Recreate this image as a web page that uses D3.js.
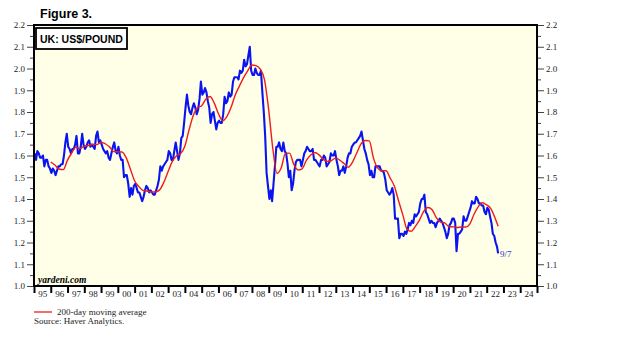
<!DOCTYPE html>
<html>
<head>
<meta charset="utf-8">
<script src="https://cdn.jsdelivr.net/npm/d3@7"></script>
<style>
  body { margin: 0; background: #fff; }
  svg { display: block; }
  .serif { font-family: "Liberation Serif", "Times New Roman", serif; }
  .sans { font-family: "Liberation Sans", Arial, sans-serif; }
</style>
</head>
<body>
<script>
// monthly US$ per pound, Jan 1995 .. Sep 2022 (last point is 9/7)
const firstMonth = new Date(1995, 0, 15);
const lastDay = new Date(2022, 8, 7);
const usdPerPound = [
  1.61,1.58,1.62,1.61,1.59,1.59,1.60,1.55,1.58,1.58,1.55,1.54, // 95
  1.52,1.54,1.53,1.51,1.53,1.55,1.55,1.56,1.56,1.60,1.66,1.70, // 96
  1.64,1.63,1.61,1.63,1.63,1.65,1.69,1.61,1.61,1.64,1.70,1.65, // 97
  1.63,1.64,1.66,1.67,1.64,1.65,1.64,1.63,1.69,1.71,1.66,1.67, // 98
  1.65,1.63,1.62,1.61,1.62,1.59,1.58,1.61,1.64,1.66,1.62,1.61, // 99
  1.64,1.60,1.58,1.58,1.50,1.51,1.51,1.47,1.41,1.45,1.42,1.46, // 00
  1.47,1.45,1.43,1.43,1.41,1.39,1.41,1.44,1.46,1.45,1.43,1.44, // 01
  1.43,1.42,1.42,1.44,1.46,1.49,1.55,1.53,1.55,1.56,1.57,1.58, // 02
  1.62,1.61,1.58,1.58,1.62,1.66,1.62,1.58,1.61,1.68,1.69,1.75, // 03
  1.82,1.88,1.83,1.80,1.79,1.82,1.84,1.82,1.79,1.81,1.86,1.94, // 04
  1.88,1.89,1.91,1.89,1.85,1.82,1.75,1.79,1.80,1.76,1.72,1.75, // 05
  1.76,1.75,1.75,1.79,1.87,1.84,1.85,1.89,1.87,1.88,1.94,1.96, // 06
  1.96,1.96,1.95,1.99,1.98,1.99,2.04,2.01,2.02,2.06,2.10,1.99, // 07
  1.97,1.97,2.00,1.98,1.97,1.97,1.99,1.89,1.80,1.69,1.52,1.46, // 08
  1.40,1.44,1.39,1.47,1.55,1.64,1.64,1.66,1.63,1.62,1.66,1.62, // 09
  1.61,1.56,1.50,1.53,1.44,1.47,1.53,1.57,1.58,1.58,1.58,1.55, // 10
  1.58,1.61,1.62,1.64,1.63,1.62,1.62,1.63,1.58,1.58,1.57,1.56, // 11
  1.55,1.58,1.58,1.60,1.59,1.55,1.56,1.57,1.61,1.60,1.60,1.62, // 12
  1.58,1.55,1.51,1.53,1.53,1.55,1.52,1.55,1.59,1.61,1.61,1.64, // 13
  1.65,1.66,1.66,1.67,1.68,1.69,1.71,1.67,1.63,1.61,1.58,1.56, // 14
  1.51,1.53,1.50,1.50,1.55,1.55,1.55,1.55,1.53,1.53,1.52,1.49, // 15
  1.44,1.43,1.42,1.43,1.45,1.42,1.31,1.31,1.31,1.22,1.24,1.24, // 16
  1.23,1.25,1.24,1.26,1.29,1.28,1.30,1.29,1.33,1.32,1.33,1.34, // 17
  1.38,1.40,1.40,1.42,1.34,1.33,1.31,1.29,1.30,1.29,1.29,1.27, // 18
  1.29,1.30,1.31,1.30,1.29,1.27,1.25,1.22,1.24,1.28,1.29,1.31, // 19
  1.31,1.29,1.16,1.24,1.24,1.25,1.26,1.32,1.30,1.30,1.32,1.34, // 20
  1.36,1.39,1.38,1.38,1.41,1.40,1.38,1.38,1.37,1.37,1.34,1.33, // 21
  1.36,1.35,1.32,1.29,1.24,1.23,1.20,1.18,1.15                 // 22
];

// 200-day moving average, quarter ends from Dec 1995, last point 9/7/22
const movingAvg = [
  1.570,
  1.556,1.538,1.535,1.579, 1.611,1.638,1.632,1.643, 1.646,1.652,1.650,1.661,
  1.654,1.640,1.618,1.617, 1.616,1.590,1.538,1.484, 1.458,1.440,1.437,1.432,
  1.433,1.442,1.477,1.526, 1.572,1.598,1.609,1.643, 1.717,1.783,1.820,1.829,
  1.859,1.871,1.842,1.793, 1.760,1.778,1.819,1.877, 1.918,1.957,1.989,2.016,
  2.013,1.997,1.949,1.810, 1.631,1.518,1.544,1.610, 1.611,1.559,1.534,1.539,
  1.578,1.601,1.614,1.603, 1.583,1.573,1.577,1.589, 1.578,1.563,1.546,1.570,
  1.610,1.652,1.669,1.667, 1.589,1.543,1.530,1.530, 1.496,1.459,1.391,1.327,
  1.262,1.251,1.274,1.304, 1.343,1.361,1.351,1.314, 1.294,1.290,1.274,1.272,
  1.269,1.271,1.271,1.286, 1.330,1.364,1.383,1.373, 1.356,1.314,
  1.275
];

const yearTicks = d3.range(1995, 2026);
const yearLabels = d3.range(1995, 2025);
const yTicks = d3.range(10, 23).map(d => d / 10);
const yMinor = d3.range(10, 22).map(d => d / 10 + 0.05);

const width = 624, height = 354;
const plot = { left: 34, right: 537, top: 25, bottom: 286 };

const svg = d3.select('body').append('svg')
  .attr('width', width)
  .attr('height', height);

const x = d3.scaleTime()
  .domain([new Date(1995, 0, 1), new Date(2025, 0, 1)])
  .range([plot.left, plot.right]);

const y = d3.scaleLinear()
  .domain([1.0, 2.2])
  .range([plot.bottom, plot.top]);

const fxData = usdPerPound.map((v, i) => ({
  date: i === usdPerPound.length - 1 ? lastDay : d3.timeMonth.offset(firstMonth, i),
  value: v
}));
const maData = movingAvg.map((v, i) => ({
  date: i === movingAvg.length - 1 ? lastDay : d3.timeDay.offset(d3.timeMonth.offset(new Date(1996, 0, 1), i * 3), -1),
  value: v
}));

// plot background
svg.append('rect')
  .attr('x', plot.left).attr('y', plot.top)
  .attr('width', plot.right - plot.left)
  .attr('height', plot.bottom - plot.top)
  .attr('fill', '#fffee6');

// title
svg.append('text')
  .attr('class', 'sans')
  .attr('x', 40).attr('y', 18)
  .attr('font-size', 12.5).attr('font-weight', 'bold')
  .text('Figure 3.');

// y axes, both sides
function styleAxis(g) {
  g.select('.domain').remove();
  g.selectAll('text')
    .attr('class', 'serif')
    .attr('font-size', 9)
    .attr('fill', '#222');
  g.selectAll('line').attr('stroke', '#444');
}

svg.append('g')
  .attr('transform', `translate(${plot.left - 1},0)`)
  .call(d3.axisLeft(y).tickValues(yTicks).tickFormat(d3.format('.1f')).tickSize(6).tickPadding(2))
  .call(styleAxis);
svg.append('g')
  .attr('transform', `translate(${plot.left - 1},0)`)
  .call(d3.axisLeft(y).tickValues(yMinor).tickFormat('').tickSize(3))
  .call(styleAxis);

svg.append('g')
  .attr('transform', `translate(${plot.right + 1},0)`)
  .call(d3.axisRight(y).tickValues(yTicks).tickFormat(d3.format('.1f')).tickSize(6).tickPadding(2))
  .call(styleAxis);
svg.append('g')
  .attr('transform', `translate(${plot.right + 1},0)`)
  .call(d3.axisRight(y).tickValues(yMinor).tickFormat('').tickSize(3))
  .call(styleAxis);

// x axis: thick year ticks and labels centred in each year
svg.append('g')
  .attr('transform', `translate(0,${plot.bottom})`)
  .call(d3.axisBottom(x).tickValues(yearTicks.map(yr => new Date(yr, 0, 1))).tickFormat('').tickSize(7))
  .call(g => g.select('.domain').remove())
  .call(g => g.selectAll('line').attr('stroke', '#000').attr('stroke-width', 2));

svg.append('g')
  .attr('transform', `translate(0,${plot.bottom})`)
  .call(d3.axisBottom(x).tickValues(yearLabels.map(yr => new Date(yr, 6, 2))).tickFormat(d3.timeFormat('%y')).tickSize(0).tickPadding(5))
  .call(g => g.select('.domain').remove())
  .call(g => g.selectAll('text').attr('class', 'serif').attr('font-size', 9).attr('fill', '#222'));

// series
const line = d3.line()
  .x(d => x(d.date))
  .y(d => y(d.value));

svg.append('path')
  .datum(fxData)
  .attr('fill', 'none')
  .attr('stroke', '#0a14f0')
  .attr('stroke-width', 2.1)
  .attr('stroke-linejoin', 'round')
  .attr('d', line);

svg.append('path')
  .datum(maData)
  .attr('fill', 'none')
  .attr('stroke', '#ee1c1c')
  .attr('stroke-width', 1.4)
  .attr('d', line.curve(d3.curveMonotoneX));

// end label
const last = fxData[fxData.length - 1];
svg.append('text')
  .attr('class', 'serif')
  .attr('x', x(last.date) + 2)
  .attr('y', y(last.value) + 4)
  .attr('font-size', 9)
  .attr('fill', '#2233cc')
  .text('9/7');

// frame
svg.append('rect')
  .attr('x', plot.left).attr('y', plot.top)
  .attr('width', plot.right - plot.left)
  .attr('height', plot.bottom - plot.top)
  .attr('fill', 'none')
  .attr('stroke', '#000')
  .attr('stroke-width', 2);

// label box
svg.append('rect')
  .attr('x', 36).attr('y', 28)
  .attr('width', 91).attr('height', 21)
  .attr('fill', '#fff')
  .attr('stroke', '#000')
  .attr('stroke-width', 1.8);
svg.append('text')
  .attr('class', 'sans')
  .attr('x', 40).attr('y', 43)
  .attr('font-size', 10.5).attr('font-weight', 'bold')
  .text('UK: US$/POUND');

svg.append('text')
  .attr('class', 'serif')
  .attr('x', 38).attr('y', 283)
  .attr('font-size', 9.5).attr('font-weight', 'bold').attr('font-style', 'italic')
  .text('yardeni.com');

// legend and source
svg.append('line')
  .attr('x1', 34).attr('x2', 52)
  .attr('y1', 312).attr('y2', 312)
  .attr('stroke', '#ee1c1c').attr('stroke-width', 1.3);
svg.append('text')
  .attr('class', 'serif')
  .attr('x', 57).attr('y', 315)
  .attr('font-size', 9).attr('fill', '#222')
  .text('200-day moving average');
svg.append('text')
  .attr('class', 'serif')
  .attr('x', 34).attr('y', 324)
  .attr('font-size', 9).attr('fill', '#222')
  .text('Source: Haver Analytics.');
</script>
</body>
</html>
